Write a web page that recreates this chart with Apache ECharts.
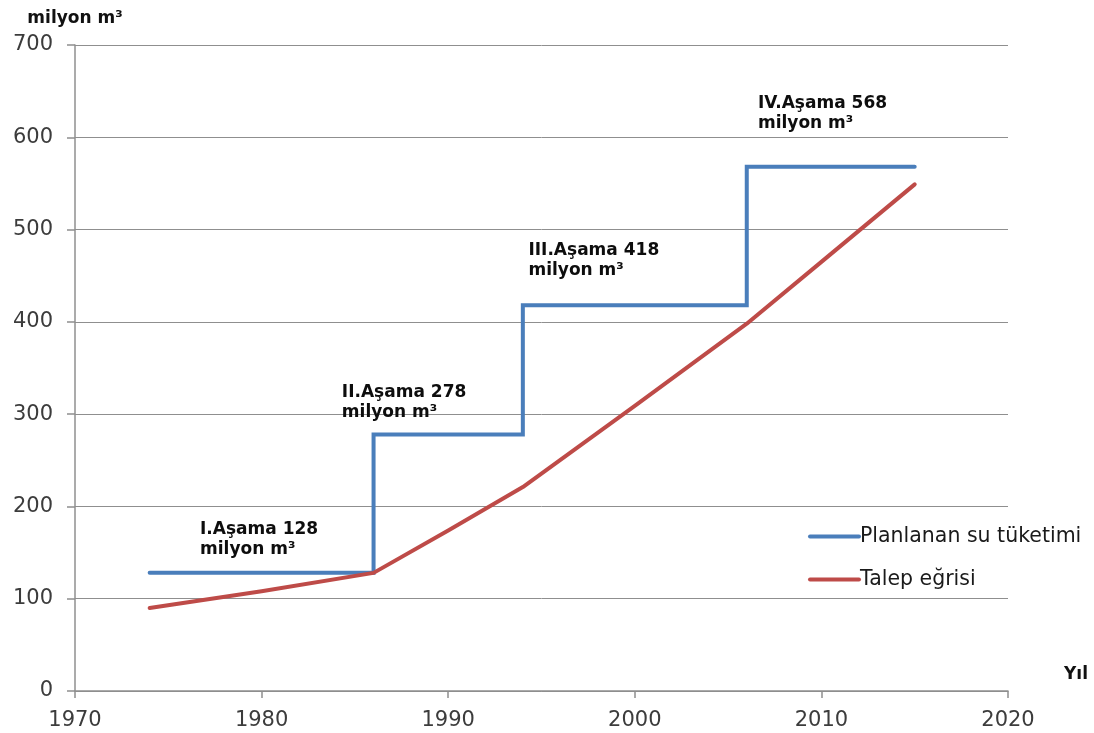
<!DOCTYPE html>
<html>
<head>
<meta charset="utf-8">
<title>Planlanan su tüketimi ve talep eğrisi</title>
<script src="https://cdn.jsdelivr.net/npm/echarts@6/dist/echarts.min.js"></script>
<style>
  html, body { margin: 0; padding: 0; background: #ffffff; }
  #chart { width: 1094px; height: 733px; }
</style>
</head>
<body>
<div id="chart"></div>
<script>
// Planned supply stages: start year and capacity (million m³)
const stageNames = ['I', 'II', 'III', 'IV'];
const stageYears = [1974, 1986, 1994, 2006];
const stageValues = [128, 278, 418, 568];
const planEndYear = 2015;

// Demand curve (million m³)
const demandYears = [1974, 1980, 1986, 1990, 1994, 2000, 2006, 2010, 2015];
const demandValues = [90, 108, 128, 174, 221, 309, 398, 465, 549];

// Stage annotation anchors in data space: [year, value]
const stageLabelAnchors = [
  [1976.7, 164],
  [1984.3, 312],
  [1994.3, 466],
  [2006.6, 626]
];

// Axis ticks
const xTicks = { min: 1970, max: 2020, interval: 10 };
const yTicks = { min: 0, max: 700, interval: 100 };

const BLUE = '#4a7ebb';
const RED = '#be4b48';
const GRID_GRAY = '#8f8f8f';
const TICK_TEXT = '#3c3c3c';

// Step line: each stage holds until the next stage starts
const planData = stageYears.map((y, i) => [y, stageValues[i]]);
planData.push([planEndYear, stageValues[stageValues.length - 1]]);

const demandData = demandYears.map((y, i) => [y, demandValues[i]]);

const stageLabelData = stageLabelAnchors.map((a, i) => ({
  value: a,
  label: { formatter: stageNames[i] + '.Aşama ' + stageValues[i] + '\nmilyon m³' }
}));

const chart = echarts.init(document.getElementById('chart'));
chart.setOption({
  animation: false,
  backgroundColor: '#ffffff',
  grid: { left: 75, right: 86, top: 45, bottom: 42, containLabel: false },
  legend: {
    data: ['Planlanan su tüketimi', 'Talep eğrisi'],
    orient: 'vertical',
    left: 803,
    top: 521,
    itemWidth: 53,
    itemHeight: 20,
    itemGap: 22,
    icon: 'path://M2,8 L51,8 A2,2 0 0 1 51,12 L2,12 A2,2 0 0 1 2,8 Z',
    textStyle: { fontFamily: 'DejaVu Sans', fontSize: 20.5, color: '#1a1a1a', padding: [0, 0, 0, -6], lineHeight: 20 }
  },
  xAxis: {
    type: 'value',
    min: xTicks.min,
    max: xTicks.max,
    interval: xTicks.interval,
    name: 'Yıl',
    nameLocation: 'end',
    nameGap: 56,
    nameTextStyle: {
      fontFamily: 'DejaVu Sans', fontWeight: 'bold', fontSize: 17, color: '#111',
      align: 'left', verticalAlign: 'bottom', padding: [0, 0, 8, 0]
    },
    axisLine: { show: true, lineStyle: { color: GRID_GRAY, width: 1.5 } },
    axisTick: { show: true, length: 7, inside: false, lineStyle: { color: GRID_GRAY, width: 1.5 } },
    axisLabel: {
      margin: 19, fontFamily: 'DejaVu Sans', fontSize: 21, color: TICK_TEXT,
      formatter: v => String(v)
    },
    splitLine: { show: false }
  },
  yAxis: {
    type: 'value',
    min: yTicks.min,
    max: yTicks.max,
    interval: yTicks.interval,
    name: 'milyon m³',
    nameLocation: 'end',
    nameGap: 18,
    nameTextStyle: { fontFamily: 'DejaVu Sans', fontWeight: 'bold', fontSize: 17, color: '#111', align: 'center' },
    axisLine: { show: true, lineStyle: { color: GRID_GRAY, width: 1.5 } },
    axisTick: { show: true, length: 8, inside: false, lineStyle: { color: GRID_GRAY, width: 1.5 } },
    axisLabel: { margin: 22, fontFamily: 'DejaVu Sans', fontSize: 21, color: TICK_TEXT },
    splitLine: { show: true, lineStyle: { color: GRID_GRAY, width: 1 } }
  },
  series: [
    {
      name: 'Planlanan su tüketimi',
      type: 'line',
      step: 'end',
      data: planData,
      symbol: 'none',
      z: 3,
      lineStyle: { color: BLUE, width: 4, cap: 'round', join: 'miter' },
      itemStyle: { color: BLUE }
    },
    {
      name: 'Talep eğrisi',
      type: 'line',
      data: demandData,
      symbol: 'none',
      z: 4,
      lineStyle: { color: RED, width: 4, cap: 'round', join: 'round' },
      itemStyle: { color: RED }
    },
    {
      name: 'Aşamalar',
      type: 'scatter',
      data: stageLabelData,
      symbolSize: 0,
      silent: true,
      z: 5,
      itemStyle: { opacity: 1, color: 'transparent' },
      label: {
        show: true,
        position: 'right',
        distance: 0,
        align: 'left',
        fontFamily: 'DejaVu Sans',
        fontWeight: 'bold',
        fontSize: 17,
        lineHeight: 20,
        color: '#0d0d0d',
        opacity: 1
      }
    }
  ]
});
</script>
</body>
</html>
